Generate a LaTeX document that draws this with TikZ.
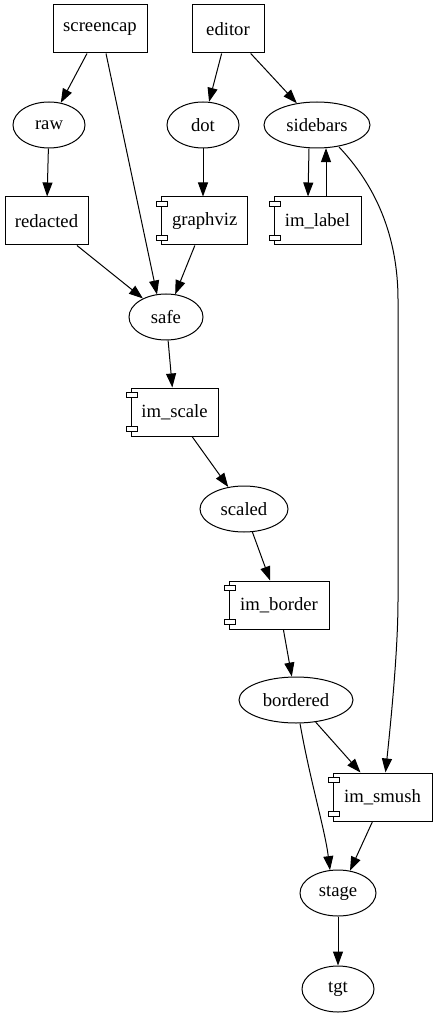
\documentclass[tikz,border=0pt]{standalone}
\usepackage{fontspec}
\setmainfont{Liberation Serif}
\usetikzlibrary{arrows.meta,shapes.geometric,calc}
\begin{document}
\begin{tikzpicture}[x=0.75pt,y=-0.75pt,
  font=\fontsize{14}{16}\selectfont, line width=0.75pt,
  >={Triangle[length=10.5pt,width=7.5pt]},
  box/.style={draw, rectangle, minimum height=36pt, inner sep=0pt},
  ell/.style={draw, ellipse, minimum height=34.5pt, inner sep=0pt},
  edge/.style={->}]
\useasboundingbox (0,0) rectangle (437,1019);
% nodes
\node[box, minimum width=70.5pt] (screencap) at (100,29) {screencap};
\node[box, minimum width=54pt] (editor) at (228,29) {editor};
\node[ell, minimum width=54pt] (raw) at (49,125) {raw};
\node[ell, minimum width=54pt] (dot) at (203,125) {dot};
\node[ell, minimum width=79.5pt] (sidebars) at (317,125) {sidebars};
\node[box, minimum width=62.25pt] (redacted) at (46.5,221) {redacted};
\node[box, minimum width=64.5pt] (graphviz) at (204.7,221) {graphviz};
\node[box, minimum width=65.25pt] (imlabel) at (317.5,221) {im\_label};
\node[ell, minimum width=55.5pt] (safe) at (166,317) {safe};
\node[box, minimum width=65.25pt] (imscale) at (174.5,412) {im\_scale};
\node[ell, minimum width=66pt] (scaled) at (244,509) {scaled};
\node[box, minimum width=75pt] (imborder) at (279,605) {im\_border};
\node[ell, minimum width=85.5pt] (bordered) at (296,700) {bordered};
\node[box, minimum width=74.25pt] (imsmush) at (382.5,797) {im\_smush};
\node[ell, minimum width=57pt] (stage) at (338,893) {stage};
\node[ell, minimum width=54pt] (tgt) at (338,989) {tgt};
% component tabs
\foreach \n in {graphviz,imlabel,imscale,imborder,imsmush}{
  \draw[fill=white] ($(\n.north west)+(-4.5,5)$) rectangle ($(\n.north west)+(6.5,10)$);
  \draw[fill=white] ($(\n.south west)+(-4.5,-5)$) rectangle ($(\n.south west)+(6.5,-10)$);
}
% edges
\draw[edge] (screencap) -- (raw);
\draw[edge] ($(screencap.south)+(6,0)$) -- ($(safe.north)+(-9,1)$);
\draw[edge] (editor) -- (dot);
\draw[edge] (editor) -- (sidebars);
\draw[edge] (raw) -- (redacted);
\draw[edge] (dot) -- (graphviz.north -| dot);
\draw[edge] ($(sidebars.south)+(-8,0)$) -- ($(imlabel.north)+(-9.5,0)$);
\draw[edge] ($(imlabel.north)+(8.5,0)$) -- ($(sidebars.south)+(9,-0.4)$);
\draw[edge] ($(sidebars.south)+(22,-1.5)$) .. controls (375,185) and (398,235) .. (398,300)
  -- (398,600) .. controls (398,650) and (391,720) .. ($(imsmush.north)+(3,0)$);
\draw[edge] (redacted) -- (safe);
\draw[edge] (graphviz) -- (safe);
\draw[edge] (safe) -- (imscale);
\draw[edge] (imscale) -- (scaled);
\draw[edge] (scaled) -- (imborder);
\draw[edge] (imborder) -- (bordered);
\draw[edge] (bordered) -- ($(imsmush.north)+(-22,0)$);
\draw[edge] ($(bordered.south)+(4,0)$) .. controls (310,780) and (325,830) .. ($(stage.north)+(-8,0.6)$);
\draw[edge] ($(imsmush.south)+(-10,0)$) -- ($(stage.north)+(12,1.2)$);
\draw[edge] (stage) -- (tgt);
\end{tikzpicture}
\end{document}
